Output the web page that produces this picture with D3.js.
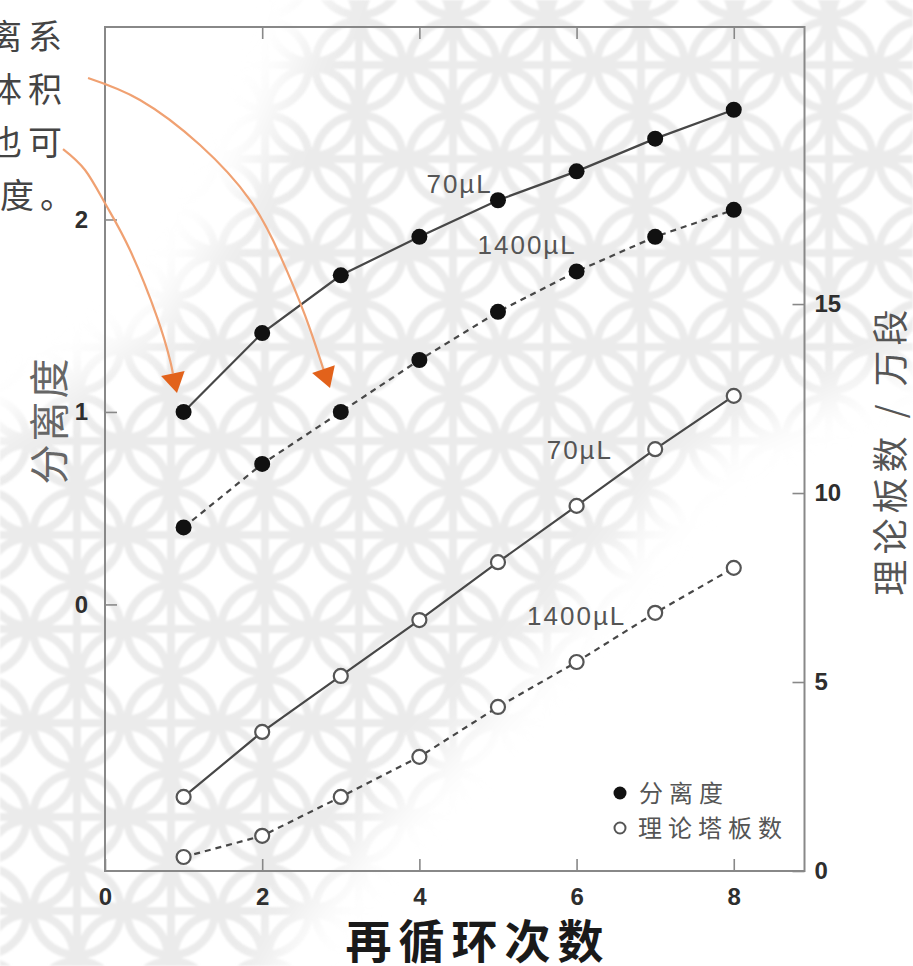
<!DOCTYPE html>
<html>
<head>
<meta charset="utf-8">
<script src="https://cdn.jsdelivr.net/npm/d3@7"></script>
<style>
  html, body { margin: 0; padding: 0; background: #fff; }
  svg { display: block; }
  .num { font-family: "Liberation Sans", Arial, sans-serif; }
  .cjk { font-family: "Noto Sans CJK SC", "Noto Sans", sans-serif; }
</style>
</head>
<body>
<svg id="chart" width="913" height="966"></svg>
<script>
// Recycle count on the x axis
const cycles = [1, 2, 3, 4, 5, 6, 7, 8];
// Resolution (left axis), filled markers
const resolution70 = [1.00, 1.41, 1.71, 1.91, 2.10, 2.25, 2.42, 2.57];
const resolution1400 = [0.40, 0.73, 1.00, 1.27, 1.52, 1.73, 1.91, 2.05];
// Theoretical plates, ten-thousands (right axis), open markers
const plates70 = [1.96, 3.68, 5.16, 6.64, 8.17, 9.66, 11.16, 12.57];
const plates1400 = [0.37, 0.93, 1.96, 3.02, 4.34, 5.53, 6.83, 8.02];

const xTicks = [0, 2, 4, 6, 8];
const leftTicks = [0, 1, 2];
const rightTicks = [0, 5, 10, 15];

// Callout arrows, in (cycle, resolution) units
const arrowA = [[-0.534, 2.366], [-0.254, 2.257], [0.013, 2.075], [0.318, 1.841],
                [0.662, 1.493], [0.827, 1.270], [0.916, 1.098]];
const arrowB = [[-0.216, 2.735], [0.445, 2.621], [1.209, 2.387], [1.845, 2.101],
                [2.226, 1.815], [2.544, 1.503], [2.761, 1.244], [2.863, 1.124]];

// Cropped note text at the top left
const noteRows = [
  { t: "离系", x: -12 },
  { t: "体积", x: -12 },
  { t: "也可", x: -12 },
  { t: "度。", x: 0 }
];

const svg = d3.select("#chart");

const x = d3.scaleLinear().domain([0, 8.9]).range([105, 804.5]);
const yL = d3.scaleLinear().domain([-1.385, 3]).range([871, 27]);
const yR = d3.scaleLinear().domain([0, 22.33]).range([871, 27]);

// ---- light decorative tile background ----
const defs = svg.append("defs");
const tile = 94, rr = 44;
const pat = defs.append("pattern")
  .attr("id", "tile").attr("patternUnits", "userSpaceOnUse")
  .attr("width", tile).attr("height", tile).attr("x", 30).attr("y", 18);
const tg = pat.append("g").attr("fill", "none").attr("stroke", "#ebebeb").attr("stroke-width", 8);
tg.append("circle").attr("cx", tile / 2).attr("cy", tile / 2).attr("r", rr);
[[0, 0], [tile, 0], [0, tile], [tile, tile]].forEach(([cx, cy]) =>
  tg.append("circle").attr("cx", cx).attr("cy", cy).attr("r", rr));
tg.append("path").attr("d", `M${tile / 2},0V${tile}M0,${tile / 2}H${tile}`);

const blur = defs.append("filter").attr("id", "soft")
  .attr("filterUnits", "userSpaceOnUse")
  .attr("x", -200).attr("y", -200).attr("width", 1400).attr("height", 1400);
blur.append("feGaussianBlur").attr("stdDeviation", 24);

const haze = defs.append("filter").attr("id", "haze")
  .attr("filterUnits", "userSpaceOnUse")
  .attr("x", 0).attr("y", 0).attr("width", 913).attr("height", 966);
haze.append("feGaussianBlur").attr("stdDeviation", 1.3);

const mask = defs.append("mask").attr("id", "band")
  .attr("maskUnits", "userSpaceOnUse")
  .attr("x", 0).attr("y", 0).attr("width", 913).attr("height", 966);
mask.append("polygon")
  .attr("points", "-60,470 0,430 160,330 240,200 300,60 340,-60 980,-60 980,330 700,450 500,700 400,800 300,920 240,1030 -60,1030")
  .attr("fill", "#fff").attr("filter", "url(#soft)");

svg.append("g").attr("mask", "url(#band)")
  .append("rect").attr("width", 913).attr("height", 966)
  .attr("fill", "url(#tile)").attr("filter", "url(#haze)");

// ---- frame ----
const [x0, x1] = x.range();
svg.append("rect")
  .attr("x", x0).attr("y", yL.range()[1])
  .attr("width", x1 - x0).attr("height", yL.range()[0] - yL.range()[1])
  .attr("fill", "none").attr("stroke", "#888").attr("stroke-width", 2);

// ---- axes (ticks point inward) ----
function styleAxis(g) {
  g.select(".domain").remove();
  g.selectAll(".tick line").attr("stroke", "#888").attr("stroke-width", 1.6);
  g.selectAll(".tick text")
    .attr("class", "num").attr("fill", "#2e2e2e")
    .style("font-size", "24px").style("font-weight", "bold");
}
svg.append("g").attr("transform", `translate(0,${yL.range()[0]})`)
  .call(d3.axisBottom(x).tickValues(xTicks).tickSize(-12).tickPadding(17).tickFormat(d3.format("d")))
  .call(styleAxis);
svg.append("g").attr("transform", `translate(0,${yL.range()[1]})`)
  .call(d3.axisTop(x).tickValues(xTicks.slice(1)).tickSize(-12).tickFormat(""))
  .call(styleAxis);
svg.append("g").attr("transform", `translate(${x0},0)`)
  .call(d3.axisLeft(yL).tickValues(leftTicks).tickSize(-12).tickPadding(17).tickFormat(d3.format("d")))
  .call(styleAxis);
svg.append("g").attr("transform", `translate(${x1},0)`)
  .call(d3.axisRight(yR).tickValues(rightTicks).tickSize(-12).tickPadding(10).tickFormat(d3.format("d")))
  .call(styleAxis);

// ---- series ----
const series = [
  { vals: resolution70, y: yL, dash: null, filled: true },
  { vals: resolution1400, y: yL, dash: "6,5", filled: true },
  { vals: plates70, y: yR, dash: null, filled: false },
  { vals: plates1400, y: yR, dash: "6,5", filled: false }
];

series.forEach(s => {
  const pts = cycles.map((c, i) => [c, s.vals[i]]);
  const line = d3.line().x(d => x(d[0])).y(d => s.y(d[1]));
  svg.append("path").datum(pts)
    .attr("d", line).attr("fill", "none")
    .attr("stroke", "#474747").attr("stroke-width", 2.2)
    .attr("stroke-dasharray", s.dash);
  svg.append("g").selectAll("circle").data(pts).join("circle")
    .attr("cx", d => x(d[0])).attr("cy", d => s.y(d[1]))
    .attr("r", s.filled ? 8 : 7)
    .attr("fill", s.filled ? "#111" : "#fff")
    .attr("stroke", s.filled ? "#111" : "#555")
    .attr("stroke-width", s.filled ? 0 : 2.2);
});

// ---- series labels ----
const seriesLabels = [
  { t: "70µL", c: 4.09, v: 2.14, ax: yL },
  { t: "1400µL", c: 4.74, v: 1.82, ax: yL },
  { t: "70µL", c: 5.62, v: 10.9, ax: yR },
  { t: "1400µL", c: 5.37, v: 6.51, ax: yR }
];
svg.append("g").selectAll("text").data(seriesLabels).join("text")
  .attr("class", "num")
  .attr("x", d => x(d.c)).attr("y", d => d.ax(d.v))
  .attr("font-size", 26).attr("letter-spacing", 2)
  .attr("fill", "#555")
  .text(d => d.t);

// ---- legend ----
const legend = svg.append("g").attr("transform", "translate(620,0)");
legend.append("circle").attr("cx", 0).attr("cy", 793).attr("r", 6.5).attr("fill", "#111");
legend.append("circle").attr("cx", 0).attr("cy", 828).attr("r", 5.5)
  .attr("fill", "#fff").attr("stroke", "#555").attr("stroke-width", 2);
legend.append("text").attr("class", "cjk").attr("x", 19).attr("y", 802)
  .attr("font-size", 24).attr("letter-spacing", 6).attr("fill", "#555").text("分离度");
legend.append("text").attr("class", "cjk").attr("x", 18).attr("y", 837)
  .attr("font-size", 24).attr("letter-spacing", 6).attr("fill", "#555").text("理论塔板数");

// ---- axis titles ----
svg.append("text").attr("class", "cjk")
  .attr("transform", "translate(64,420) rotate(-90)")
  .attr("text-anchor", "middle")
  .attr("font-size", 40).attr("letter-spacing", 3).attr("fill", "#666")
  .text("分离度");
svg.append("text").attr("class", "cjk")
  .attr("transform", "translate(904,450) rotate(-90)")
  .attr("text-anchor", "middle")
  .attr("font-size", 36).attr("letter-spacing", 5).attr("fill", "#555")
  .text("理论板数 / 万段");
svg.append("text").attr("class", "cjk")
  .attr("x", 478).attr("y", 958)
  .attr("text-anchor", "middle")
  .attr("font-size", 46).attr("font-weight", "bold").attr("letter-spacing", 7)
  .attr("fill", "#1a1a1a")
  .text("再循环次数");

// ---- note text, cropped at the left edge ----
svg.append("g").selectAll("text").data(noteRows).join("text")
  .attr("class", "cjk")
  .attr("x", d => d.x).attr("y", (d, i) => 49 + i * 53)
  .attr("font-size", 34).attr("letter-spacing", 6).attr("fill", "#444")
  .text(d => d.t);

// ---- callout arrows ----
const arrowLine = d3.line().x(d => x(d[0])).y(d => yL(d[1])).curve(d3.curveNatural);
[arrowA, arrowB].forEach(a => {
  const px = a.map(d => [x(d[0]), yL(d[1])]);
  const tip = px[px.length - 1], prev = px[px.length - 2];
  const ang = Math.atan2(tip[1] - prev[1], tip[0] - prev[0]);
  const len = 20, half = 12;
  const bx = tip[0] - len * Math.cos(ang), by = tip[1] - len * Math.sin(ang);
  // shaft stops at the head's base
  const shaft = a.slice(0, -1).concat([[x.invert(bx), yL.invert(by)]]);
  svg.append("path").datum(shaft).attr("d", arrowLine)
    .attr("fill", "none").attr("stroke", "#f0a172").attr("stroke-width", 2.2);
  const nx = -Math.sin(ang), ny = Math.cos(ang);
  svg.append("path")
    .attr("d", `M${tip[0]},${tip[1]}L${bx + nx * half},${by + ny * half}L${bx - nx * half},${by - ny * half}Z`)
    .attr("fill", "#e2621b");
});
</script>
</body>
</html>
